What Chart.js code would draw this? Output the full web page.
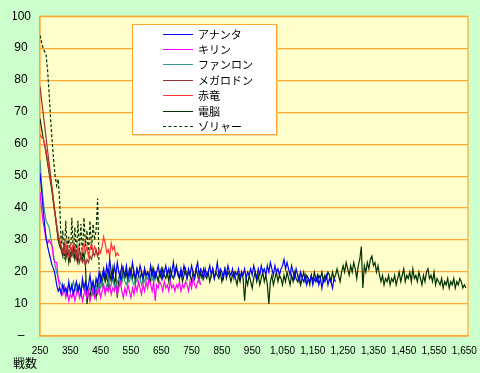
<!DOCTYPE html>
<html>
<head>
<meta charset="utf-8">
<script src="https://cdn.jsdelivr.net/npm/chart.js@4.4.1/dist/chart.umd.min.js"></script>
<style>
html, body { margin: 0; padding: 0; background: #ccffcc; }
#wrap { position: relative; width: 480px; height: 373px; }
#legend {
  position: absolute; left: 132px; top: 24px; width: 143px; height: 109px;
  background: #fff; border: 1px solid #ffa733; box-shadow: 1px 1px 0 #e6dca8;
  font: 11px "Noto Sans CJK JP", sans-serif; color: #000;
}
.item { position: absolute; left: 0; width: 140px; height: 14px; line-height: 14px; }
.item .line { position: absolute; left: 30px; top: 7px; width: 30px; height: 0; border-top: 1px solid; }
.item .txt { position: absolute; left: 65px; top: 0; white-space: nowrap; }
</style>
</head>
<body>
<div id="wrap">
  <canvas id="chart" width="480" height="373"></canvas>
  <div id="legend"></div>
</div>
<script>
// Games played, one value every STEP games from the first game of each series
const STEP = 5;
const xTickValues = [250, 350, 450, 550, 650, 750, 850, 950, 1050, 1150, 1250, 1350, 1450, 1550, 1650];
const yTickValues = [0, 10, 20, 30, 40, 50, 60, 70, 80, 90, 100];

const seriesNames = ['アナンタ', 'キリン', 'ファンロン', 'メガロドン', '赤竜', '電脳', 'ゾリャー'];
const seriesStart = [250, 250, 250, 250, 250, 250, 250];

const ananta = [
  51,46,40,35,31,28,26,24,22,21,19,16,14,15,13,16,14,15,13,17,
  14,16,13,15,17,14,16,13,18,15,17,14,16,19,15,17,14,18,16,20,
  17,19,21,18,22,19,24,20,18,22,19,23,20,18,22,20,19,22,18,21,
  19,23,20,18,21,19,22,20,18,21,19,20,18,22,19,21,18,20,22,19,
  21,18,20,22,19,21,18,20,23,19,21,20,18,21,19,22,20,18,21,19,
  22,20,18,21,23,19,21,20,18,21,19,20,22,19,21,18,20,23,19,21,
  20,18,21,19,22,20,19,21,18,20,19,21,18,20,19,21,18,20,19,21,
  19,22,20,18,21,19,22,20,21,19,22,20,23,21,19,22,20,21,19,21,
  22,24,21,23,21,19,22,20,18,21,19,17,20,18,17,19,16,18,17,19,
  16,18,17,19,16,18,15,18,17,19,16,18,17,15,18,17
];
const kirin = [
  45,40,36,33,30,29,30,29,28,24,23,23,18,15,14,13,15,12,14,11,
  13,12,14,11,13,15,12,14,11,13,15,12,14,11,13,15,12,14,13,15,
  12,14,16,13,15,14,16,13,15,14,16,13,15,17,14,12,15,13,16,14,
  12,15,13,16,14,17,15,13,16,14,17,15,18,16,14,17,11,16,15,17,
  16,14,17,15,16,14,17,15,16,14,16,15,17,14,16,15,17,16,14,17,
  15,18,16,15,17,18,16
];
const fanron = [
  55,48,43,39,36,35,34,31,28,25,22,20,18,17,16,15,16,14,15,16,
  14,15,17,15,14,16,15,14,16,15,13,15,16,14,15,17,15,16,14,16,
  15,17,16,14,16,17,15,16,18,16,15,17,18,16,17,19,17,16,18,17,
  19,17,16,18,17,19,18,16,18,17,19,18,17,19,18,17,19,18
];
const megarodon = [
  78,74,70,66,62,58,54,50,46,42,38,34,31,29,28,26,29,25,28,26,
  24,27,25,28,24,26,23,25,23,24,22,24,23,25,24,26,25,27,25,26
];
const sekiryu = [
  63,62,62,60,58,55,52,49,46,42,38,35,32,30,28,27,26,29,27,25,
  28,26,29,27,25,28,26,24,27,29,26,28,25,27,29,26,28,27,25,27,
  26,28,31,29,26,27,25,29,27,28,25,26,25
];
const dennou = [
  68,65,62,60,57,54,51,48,45,41,38,34,30,28,27,25,28,24,27,23,
  26,25,28,24,26,23,27,25,24,26,22,10,14,12,16,13,15,12,17,14,
  19,16,20,17,19,15,20,17,21,16,19,12,18,20,17,21,18,20,17,19,
  21,18,20,17,21,19,18,20,17,21,18,20,19,17,21,18,20,19,17,20,
  18,21,19,18,20,17,21,19,18,20,22,19,18,20,17,19,21,18,20,19,
  17,20,18,21,19,17,20,18,21,19,18,20,17,19,21,18,20,19,18,20,
  17,19,21,18,20,19,17,19,20,18,16,19,17,20,18,11,18,16,19,17,
  15,18,20,17,19,16,18,20,17,19,16,10,17,19,16,18,20,17,19,18,
  16,19,17,20,18,16,19,17,20,18,17,19,16,18,20,17,19,18,16,19,
  17,20,18,17,19,18,20,17,19,18,20,19,17,20,18,19,21,19,17,20,
  22,20,23,21,19,22,20,23,21,18,22,24,28,15,22,20,23,21,24,25,
  22,23,20,22,19,17,19,16,18,17,19,16,18,17,19,16,18,20,17,19,
  21,17,19,18,20,17,21,18,19,17,20,18,16,19,17,20,21,18,19,17,
  20,16,18,17,16,18,15,17,16,18,15,17,16,18,15,17,16,18,17,15,16,15
];
const zoryaa = [
  94,92,90,89,88,83,76,68,61,55,50,47,49,42,
  27,33,24,36,27,31,23,37,26,34,25,36,27,35,24,37,28,33,25,36,27,35,30,33,43,21
];

const seriesValues = [ananta, kirin, fanron, megarodon, sekiryu, dennou, zoryaa];
const seriesColors = ['#0000ff', '#ff00ff', '#339999', '#993333', '#ff3333', '#003300', '#003300'];
const seriesDash = [[], [], [], [], [], [], [3, 2]];

const ORANGE = '#ffa733';

// Build {x, y} points from the value lists
function toPoints(values, start) {
  return values.map((v, i) => ({ x: start + i * STEP, y: v }));
}

// Plot background and frame
const plotFrame = {
  id: 'plotFrame',
  beforeDraw(chart) {
    const { ctx, chartArea: a } = chart;
    ctx.save();
    ctx.fillStyle = '#ccffcc';
    ctx.fillRect(0, 0, chart.width, chart.height);
    ctx.fillStyle = '#ffffcc';
    ctx.fillRect(a.left, a.top, a.width, a.height);
    ctx.restore();
  },
  beforeDatasetsDraw(chart) {
    const { ctx, chartArea: a } = chart;
    ctx.save();
    ctx.strokeStyle = ORANGE;
    ctx.lineWidth = 1.2;
    ctx.strokeRect(a.left, a.top, a.width, a.height);
    ctx.restore();
  }
};

const chart = new Chart(document.getElementById('chart'), {
  type: 'line',
  data: {
    datasets: seriesNames.map((name, i) => ({
      label: name,
      data: toPoints(seriesValues[i], seriesStart[i]),
      borderColor: seriesColors[i],
      backgroundColor: seriesColors[i],
      borderDash: seriesDash[i],
      borderWidth: 1.2,
      pointRadius: 0,
      tension: 0,
      fill: false
    }))
  },
  options: {
    responsive: false,
    animation: false,
    events: [],
    layout: { padding: { left: 13, right: 12, top: 10, bottom: 2 } },
    plugins: {
      legend: { display: false },
      tooltip: { enabled: false },
      title: {
        display: true,
        text: '戦数',
        position: 'bottom',
        align: 'start',
        color: '#000',
        padding: 0,
        font: { family: '"Noto Sans CJK JP"', size: 12, weight: 'normal' }
      }
    },
    scales: {
      x: {
        type: 'linear',
        min: 250,
        max: 1662,
        afterFit: s => { s.height = 20.6; s.paddingLeft = 0; s.paddingRight = 0; },
        afterBuildTicks: s => { s.ticks = xTickValues.map(v => ({ value: v })); },
        grid: { display: false, drawTicks: false },
        border: { color: ORANGE, width: 1.2 },
        ticks: {
          autoSkip: false,
          maxRotation: 0,
          padding: 9,
          color: '#000',
          font: { family: '"Liberation Sans"', size: 10 },
          callback: v => v.toLocaleString('en-US')
        }
      },
      y: {
        min: 0,
        max: 100,
        afterFit: s => { s.width = 27; },
        afterBuildTicks: s => { s.ticks = yTickValues.map(v => ({ value: v })); },
        grid: { color: ORANGE, lineWidth: 1.2, drawTicks: false },
        border: { color: ORANGE, width: 1.2 },
        ticks: {
          padding: 9,
          crossAlign: 'center',
          color: '#000',
          font: { family: '"Liberation Sans"', size: 12 },
          callback: v => (v === 0 ? '–' : v)
        }
      }
    }
  },
  plugins: [plotFrame]
});

// Legend box laid over the plot, built from the datasets
const legend = document.getElementById('legend');
chart.data.datasets.forEach((ds, i) => {
  const item = document.createElement('div');
  item.className = 'item';
  item.style.top = (1.5 + i * 15.4) + 'px';
  const line = document.createElement('span');
  line.className = 'line';
  line.style.borderTopColor = ds.borderColor;
  if (ds.borderDash.length) line.style.borderTopStyle = 'dashed';
  const txt = document.createElement('span');
  txt.className = 'txt';
  txt.textContent = ds.label;
  item.appendChild(line);
  item.appendChild(txt);
  legend.appendChild(item);
});
</script>
</body>
</html>
